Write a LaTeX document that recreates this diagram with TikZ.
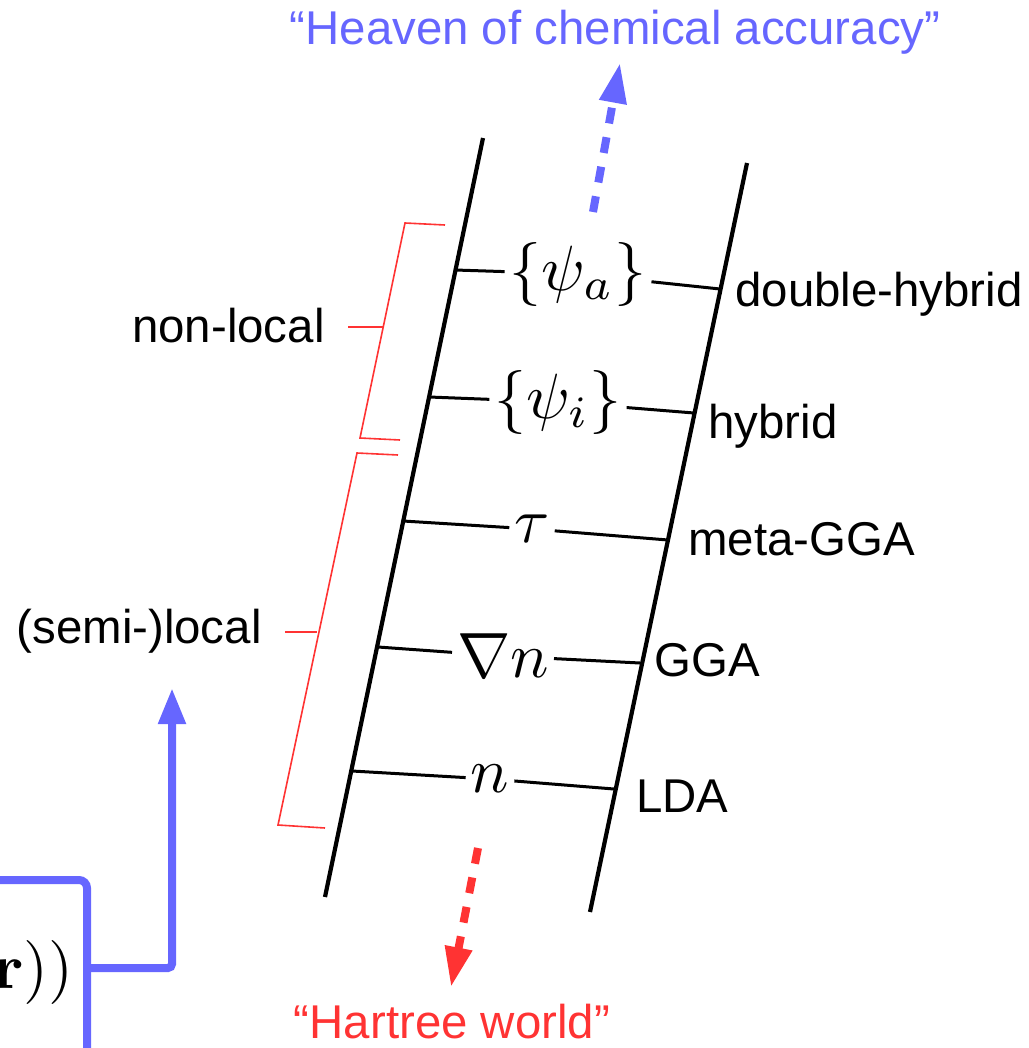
\documentclass[tikz,border=0pt]{standalone}
\usepackage[no-math]{fontspec}
\setmainfont{Liberation Sans}
\usetikzlibrary{arrows.meta,positioning}

\begin{document}
\begin{tikzpicture}[x=0.5pt,y=-0.5pt,
    rail/.style={line width=2.1pt},
    rung/.style={line width=1.5pt},
    brk/.style={cR,line width=0.8pt},
    lbl/.style={font=\fontsize{23.7}{28}\selectfont,inner sep=0pt},
    mth/.style={scale=3.2,inner sep=0.6pt},
    bigtip/.style={-{Triangle[length=20pt,width=13pt]}}]
    \definecolor{cB}{RGB}{102,102,255}\definecolor{cR}{RGB}{255,51,51}
    \useasboundingbox (0,0) rectangle (1028,1048);
    % ---------- ladder rails ----------
    \coordinate (LT) at (483,138); \coordinate (LB) at (325,897);
    \coordinate (RT) at (747,163); \coordinate (RB) at (590,912);
    \draw[rail] (LT) -- (LB);
    \draw[rail] (RT) -- (RB);
    % ---------- rungs ----------
    \coordinate (L1) at (455,270); \coordinate (R1) at (720,289);
    \coordinate (L2) at (429,397); \coordinate (R2) at (694,413);
    \coordinate (L3) at (403,521); \coordinate (R3) at (668,540);
    \coordinate (L4) at (378,647); \coordinate (R4) at (640,663);
    \coordinate (L5) at (352,771); \coordinate (R5) at (614,789);
    \node[mth] (psiA) at (578,274) {$\{\psi_a\}$};
    \node[mth] (psiI) at (558,402) {$\{\psi_i\}$};
    \node[mth] (tau) at (532,529) {$\tau$};
    \node[mth] (grad) at (503,656) {$\nabla n$};
    \node[mth] (dens) at (490,779) {$n$};
    \draw[rung] (L1) -- (psiA) -- (R1);
    \draw[rung] (L2) -- (psiI) -- (R2);
    \draw[rung] (L3) -- (tau) -- (R3);
    \draw[rung] (L4) -- (grad) -- (R4);
    \draw[rung] (L5) -- (dens) -- (R5);
    % ---------- rung names ----------
    \node[lbl,anchor=base west] (dh) at (735,306) {double-hybrid};
    \node[lbl,anchor=base west] (hyb) at (708,438) {hybrid};
    \node[lbl,anchor=base west] (mgga) at (688,555) {meta-GGA};
    \node[lbl,anchor=base west] (gga) at (654,676) {GGA};
    \node[lbl,anchor=base west] (lda) at (636,812) {LDA};
    % ---------- brackets ----------
    \node[lbl,anchor=base east] (nonloc) at (325,342) {non-local};
    \node[lbl,anchor=base east] (semiloc) at (262,643) {(semi-)local};
    \draw[brk] (445,225) -- (405,223) -- (360,438) -- (400,440);
    \draw[brk] (348,327) -- (383,327);
    \draw[brk] (398,455) -- (357,453) -- (278,825) -- (325,828);
    \draw[brk] (285,632) -- (317,632);
    % ---------- top / bottom ----------
    \node[lbl,text=cB] (heaven) at (615,32) {``Heaven of chemical accuracy''};
    \node[lbl,text=cR,anchor=base] (hartree) at (452,1038) {``Hartree world''};
    \coordinate (upS) at (593,212); \coordinate (upE) at (620,63);
    \coordinate (dnS) at (478,848); \coordinate (dnE) at (451,987);
    \draw[cB,line width=4pt,dash pattern=on 8pt off 7pt,bigtip] (upS) -- (upE);
    \draw[cR,line width=4pt,dash pattern=on 8pt off 7pt,bigtip] (dnS) -- (dnE);
    % ---------- functional box ----------
    \draw[cB,line width=4pt,rounded corners=4pt] (-10,880) -- (87,880) -- (87,1070);
    \node[mth,anchor=base east,inner sep=0pt] (func) at (75,988) {$\mathbf{r}))$};
    \coordinate (boxR) at (87,968); \coordinate (arrE) at (172,688);
    \draw[cB,line width=4pt,rounded corners=2pt,-{Triangle[length=18pt,width=13pt]}] (boxR) -- (boxR -| arrE) -- (arrE);
\end{tikzpicture}
\end{document}
